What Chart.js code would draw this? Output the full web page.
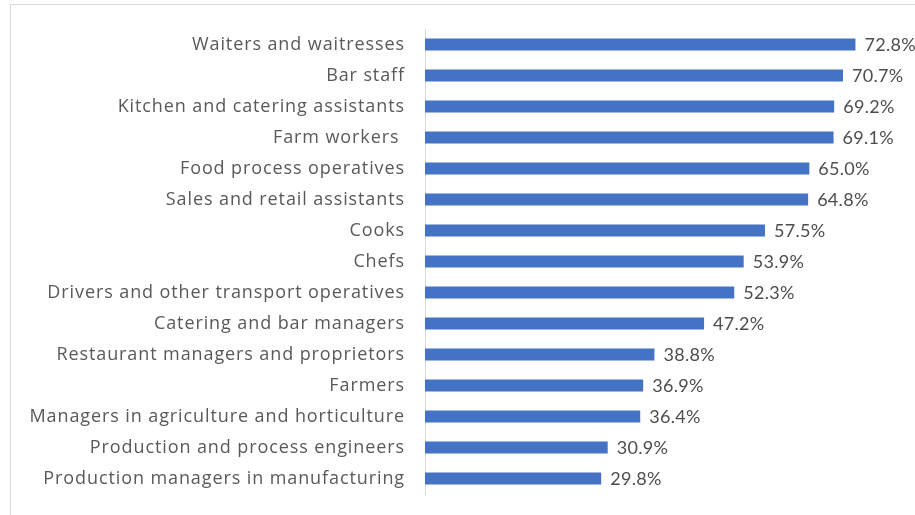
<!DOCTYPE html>
<html lang="en">
<head>
  <meta charset="UTF-8" />
  <title>Occupations</title>
  <script src="https://cdn.jsdelivr.net/npm/chart.js"></script>
  <style>
    body {
      margin: 0;
      background: #ffffff;
      overflow: hidden;
    }

    .frame {
      position: absolute;
      left: 10px;
      top: 4px;
      width: 930px;
      height: 530px;
      border: 1px solid #d9d9d9;
    }

    #chart {
      position: absolute;
      left: 0;
      top: 0;
    }
  </style>
</head>
<body>
  <div class="frame"></div>
  <canvas id="chart" width="915" height="515"></canvas>

  <script>
    const occupations = [
      'Waiters and waitresses',
      'Bar staff',
      'Kitchen and catering assistants',
      'Farm workers ',
      'Food process operatives',
      'Sales and retail assistants',
      'Cooks',
      'Chefs',
      'Drivers and other transport operatives',
      'Catering and bar managers',
      'Restaurant managers and proprietors',
      'Farmers',
      'Managers in agriculture and horticulture',
      'Production and process engineers',
      'Production managers in manufacturing'
    ];
    const shares = [72.8, 70.7, 69.2, 69.1, 65.0, 64.8, 57.5, 53.9, 52.3, 47.2, 38.8, 36.9, 36.4, 30.9, 29.8];

    // category names are spaced out a little
    const spacing = {
      id: 'spacing',
      beforeDraw(chart) {
        chart.ctx.letterSpacing = '0.9px';
      }
    };

    // writes the percentage just past the end of each bar
    const valueLabels = {
      id: 'valueLabels',
      afterDatasetsDraw(chart) {
        const ctx = chart.ctx;
        const meta = chart.getDatasetMeta(0);
        ctx.save();
        ctx.letterSpacing = '0.3px';
        ctx.font = '18px Lato, sans-serif';
        ctx.fillStyle = '#4d4d4d';
        ctx.textBaseline = 'middle';
        ctx.textAlign = 'left';
        meta.data.forEach((bar, i) => {
          ctx.fillText(shares[i].toFixed(1) + '%', bar.x + 9, bar.y + 1);
        });
        ctx.restore();
      }
    };

    new Chart(document.getElementById('chart'), {
      type: 'bar',
      data: {
        labels: occupations,
        datasets: [{
          data: shares,
          backgroundColor: '#4472c4',
          barPercentage: 0.75,
          categoryPercentage: 0.52
        }]
      },
      options: {
        indexAxis: 'y',
        responsive: false,
        animation: false,
        layout: {
          padding: { top: 29, bottom: 21, left: 0, right: 17 }
        },
        plugins: {
          legend: { display: false },
          tooltip: { enabled: false }
        },
        scales: {
          x: {
            min: 0,
            max: 80,
            display: false
          },
          y: {
            afterFit(scale) {
              scale.width = 425;
              scale.paddingTop = 0;
              scale.paddingBottom = 0;
            },
            grid: { display: false, drawTicks: false },
            border: { display: true, color: '#d9d9d9', width: 1 },
            ticks: {
              padding: 20,
              color: '#595959',
              font: { family: '"Open Sans", sans-serif', size: 18 }
            }
          }
        }
      },
      plugins: [spacing, valueLabels]
    });
  </script>
</body>
</html>
